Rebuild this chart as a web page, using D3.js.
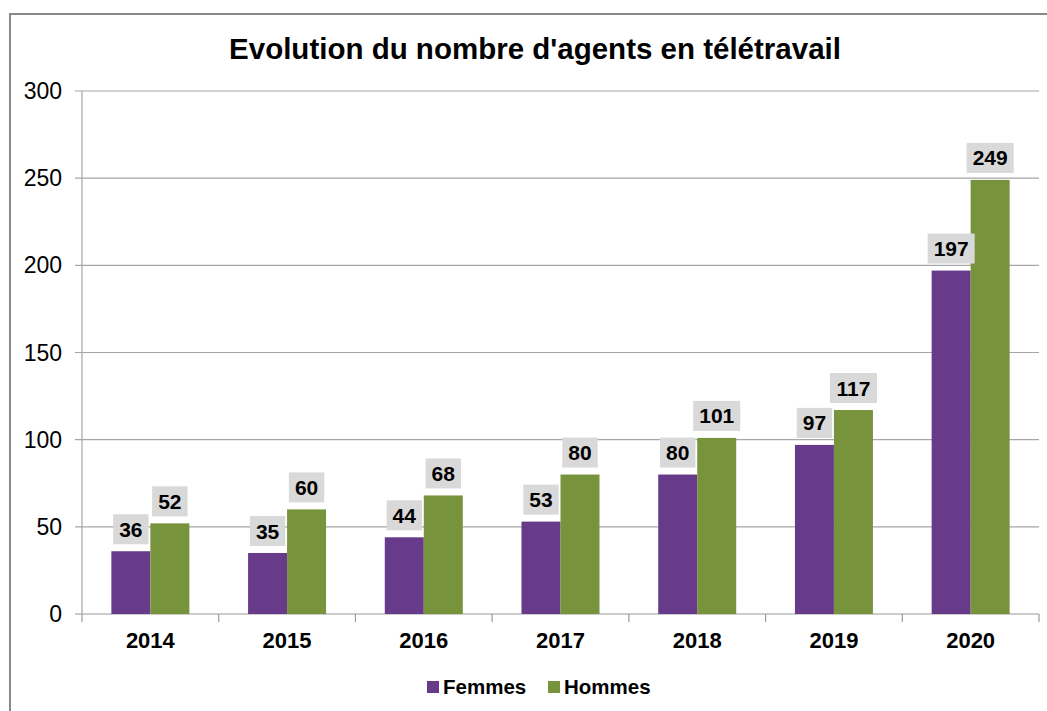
<!DOCTYPE html>
<html lang="fr">
<head>
  <meta charset="UTF-8">
  <title>Evolution du nombre d'agents en télétravail</title>
  <script src="https://d3js.org/d3.v7.min.js"></script>
  <style>
    body {
      margin: 0;
      background: #ffffff;
      font-family: 'Liberation Sans', Arial, sans-serif;
    }
    svg { display: block; }
  </style>
</head>
<body>
<svg width="1047" height="711"></svg>
<script>
const years = ["2014", "2015", "2016", "2017", "2018", "2019", "2020"];
const femmes = [36, 35, 44, 53, 80, 97, 197];
const hommes = [52, 60, 68, 80, 101, 117, 249];
const series = ["Femmes", "Hommes"];
const colors = ["#673b8a", "#77933c"];
const yTicks = [0, 50, 100, 150, 200, 250, 300];

const svg = d3.select("svg");
const plotLeft = 82, plotRight = 1039, plotTop = 91, plotBottom = 614;

// cadre gris
svg.append("rect")
  .attr("x", 10).attr("y", 14)
  .attr("width", 1060).attr("height", 720)
  .attr("fill", "none")
  .attr("stroke", "#898989")
  .attr("stroke-width", 2);

svg.append("text")
  .attr("x", 535).attr("y", 59)
  .attr("text-anchor", "middle")
  .attr("font-size", 29.5)
  .attr("font-weight", "bold")
  .text("Evolution du nombre d'agents en télétravail");

const x = d3.scaleBand().domain(years).range([plotLeft, plotRight]);
const x1 = d3.scaleBand().domain(series).range([0, 78]);
const y = d3.scaleLinear().domain([0, 300]).range([plotBottom, plotTop]);

// grille
svg.append("g")
  .selectAll("line")
  .data(yTicks)
  .join("line")
  .attr("x1", plotLeft - 7).attr("x2", plotRight)
  .attr("y1", d => y(d)).attr("y2", d => y(d))
  .attr("stroke", d => d === 0 ? "#9a9a9a" : "#a6a6a6")
  .attr("stroke-width", 1.2);

svg.append("line")
  .attr("x1", plotLeft).attr("x2", plotLeft)
  .attr("y1", plotTop).attr("y2", plotBottom)
  .attr("stroke", "#a6a6a6").attr("stroke-width", 1.2);

svg.append("g")
  .selectAll("text")
  .data(yTicks)
  .join("text")
  .attr("x", 62)
  .attr("y", d => y(d))
  .attr("dy", "0.35em")
  .attr("text-anchor", "end")
  .attr("font-size", 23)
  .text(d => d);

// ticks axe x
svg.append("g")
  .selectAll("line")
  .data(d3.range(years.length + 1))
  .join("line")
  .attr("x1", i => plotLeft + i * x.step()).attr("x2", i => plotLeft + i * x.step())
  .attr("y1", plotBottom).attr("y2", plotBottom + 8)
  .attr("stroke", "#9a9a9a").attr("stroke-width", 1.2);

svg.append("g")
  .selectAll("text")
  .data(years)
  .join("text")
  .attr("x", d => x(d) + x.bandwidth() / 2)
  .attr("y", 648)
  .attr("text-anchor", "middle")
  .attr("font-size", 22)
  .attr("font-weight", "bold")
  .text(d => d);

const rows = [];
years.forEach((yr, i) => {
  rows.push({ year: yr, s: "Femmes", v: femmes[i], c: colors[0] });
  rows.push({ year: yr, s: "Hommes", v: hommes[i], c: colors[1] });
});

const offset = (x.bandwidth() - 78) / 2;

svg.append("g")
  .selectAll("rect")
  .data(rows)
  .join("rect")
  .attr("x", d => x(d.year) + offset + x1(d.s))
  .attr("width", x1.bandwidth())
  .attr("y", d => y(d.v))
  .attr("height", d => plotBottom - y(d.v))
  .attr("fill", d => d.c);

// étiquettes
const lab = svg.append("g")
  .selectAll("g")
  .data(rows)
  .join("g")
  .attr("transform", d => `translate(${x(d.year) + offset + x1(d.s) + x1.bandwidth() / 2},${y(d.v) - 22})`);

lab.append("rect")
  .attr("x", d => -(String(d.v).length * 11.7 + 12) / 2)
  .attr("width", d => String(d.v).length * 11.7 + 12)
  .attr("y", -15)
  .attr("height", 30)
  .attr("fill", "#d9d9d9");

lab.append("text")
  .attr("text-anchor", "middle")
  .attr("dy", "0.36em")
  .attr("font-size", 21)
  .attr("font-weight", "bold")
  .text(d => d.v);

// légende
const leg = svg.append("g")
  .selectAll("g")
  .data(series)
  .join("g")
  .attr("transform", (d, i) => `translate(${427 + i * 121},687)`);

leg.append("rect")
  .attr("y", -6).attr("width", 12).attr("height", 12)
  .attr("fill", (d, i) => colors[i]);

leg.append("text")
  .attr("x", 16)
  .attr("dy", "0.35em")
  .attr("font-size", 20.5)
  .attr("font-weight", "bold")
  .text(d => d);
</script>
</body>
</html>
